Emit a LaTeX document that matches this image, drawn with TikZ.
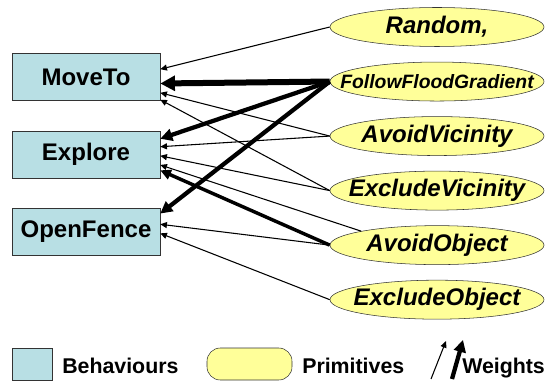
\documentclass[tikz,border=0pt]{standalone}
\usepackage{fontspec}
\setmainfont{Liberation Sans}
\usetikzlibrary{arrows.meta,positioning,calc,shapes.geometric}
\definecolor{behfill}{RGB}{184,223,228}
\definecolor{primfill}{RGB}{255,255,153}
\tikzset{
  beh/.style={draw=black!80,fill=behfill,minimum width=111pt,minimum height=35.25pt,inner sep=0pt,
              font=\fontsize{18}{20}\selectfont\bfseries},
  prim/.style={ellipse,draw=black!80,fill=primfill,minimum width=160.5pt,minimum height=29.25pt,
               inner xsep=-30pt,inner ysep=-6pt,font=\fontsize{18}{20}\selectfont\bfseries\itshape},
  wthin/.style={-{Triangle[length=5pt,width=4.5pt]},line width=0.8pt},
  wmid/.style={-{Triangle[length=8pt,width=7.5pt]},line width=2.6pt},
  wthick/.style={-{Triangle[length=9pt,width=9pt]},line width=3.2pt},
  wheavy/.style={-{Triangle[length=11pt,width=11pt]},line width=4.5pt},
  legtxt/.style={anchor=base west,inner sep=0pt,font=\fontsize{16}{18}\selectfont\bfseries},
}
\begin{document}
\begin{tikzpicture}[x=0.75pt,y=-0.75pt]
  \useasboundingbox (0,0) rectangle (545,384);
  \node[beh] (moveto) at (86,77) {MoveTo};
  \node[beh,below=22.5pt of moveto] (explore) {Explore};
  \node[beh,below=22.5pt of explore] (openfence) {OpenFence};
  \node[prim] (random) at (437,27) {Random,};
  \node[prim,below=11.25pt of random,font=\fontsize{14.5}{16}\selectfont\bfseries\itshape] (ffg) {FollowFloodGradient};
  \node[prim,below=11.25pt of ffg] (avvic) {AvoidVicinity};
  \node[prim,below=11.25pt of avvic] (exvic) {ExcludeVicinity};
  \node[prim,below=11.25pt of exvic] (avobj) {AvoidObject};
  \node[prim,below=11.25pt of avobj] (exobj) {ExcludeObject};
  \draw[wthin] (random.west) -- (moveto.6);
  \draw[wheavy] (ffg.west) -- (moveto.-5);
  \draw[wthick] (ffg.west) -- (explore.12);
  \draw[wthick] (ffg.west) -- (openfence.14);
  \draw[wthin] (avvic.west) -- (moveto.-12);
  \draw[wthin] (avvic.west) -- (explore.6);
  \draw[wthin] (exvic.west) -- (moveto.-17);
  \draw[wthin] (exvic.west) -- (explore.-1);
  \draw[wthin] (avobj.north west) -- (explore.-8);
  \draw[wmid] (avobj.west) -- (explore.-12);
  \draw[wthin] (avobj.west) -- (openfence.6);
  \draw[wthin] (exobj.west) -- (openfence.-1);
  \node[beh,minimum width=30pt,minimum height=24pt] (legbeh) at (32,364) {};
  \node[legtxt] (legbehtxt) at (62,373) {Behaviours};
  \node[draw=black!80,fill=primfill,rounded corners=10pt,minimum width=63.75pt,minimum height=24pt] (legprim) at (249.5,364) {};
  \node[legtxt] (legprimtxt) at (302,373) {Primitives};
  \coordinate (w1a) at (431,379);
  \coordinate (w1b) at (446,341);
  \coordinate (w2a) at (452,379);
  \coordinate (w2b) at (463,340);
  \draw[wthin] (w1a) -- (w1b);
  \draw[wthick] (w2a) -- (w2b);
  \node[legtxt] (legwtxt) at (462,373) {Weights};
\end{tikzpicture}
\end{document}
